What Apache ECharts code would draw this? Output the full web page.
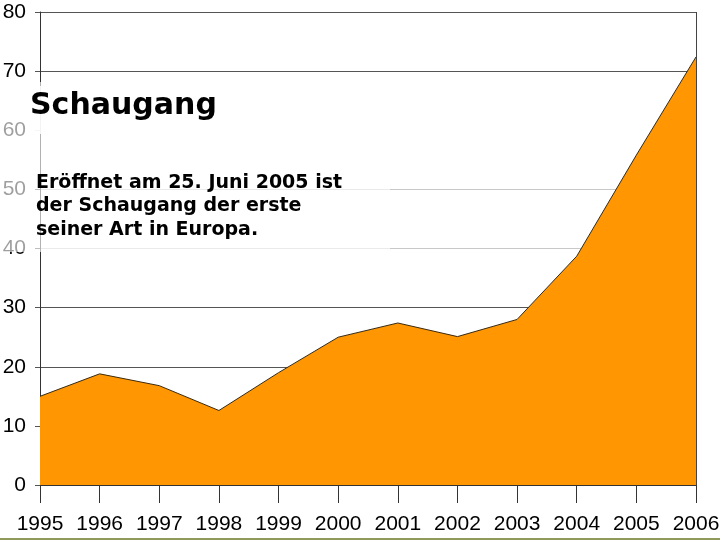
<!DOCTYPE html>
<html>
<head>
<meta charset="utf-8">
<script src="https://cdn.jsdelivr.net/npm/echarts@6/dist/echarts.min.js"></script>
<style>
  html, body { margin: 0; padding: 0; background: #fff; }
  #chart { width: 720px; height: 540px; }
</style>
</head>
<body>
<div id="chart"></div>
<script>
// Jahre und Werte
var years = ['1995', '1996', '1997', '1998', '1999', '2000', '2001', '2002', '2003', '2004', '2005', '2006'];
var values = [15, 18.8, 16.8, 12.6, 19, 25, 27.4, 25.1, 28, 38.7, 55.8, 72.4];
var yTicks = [0, 10, 20, 30, 40, 50, 60, 70, 80];
// Farben der Gitterlinien (0..80), 60 ist im Original nicht sichtbar
var gridColors = ['#555', '#555', '#555', '#555', '#c8c8c8', '#c8c8c8', 'rgba(0,0,0,0)', '#555', '#555'];

var titleText = 'Schaugang';
var noteText = 'Eröffnet am 25. Juni 2005 ist\nder Schaugang der erste\nseiner Art in Europa.';

var myChart = echarts.init(document.getElementById('chart'));

var option = {
  backgroundColor: '#fff',
  animation: false,
  grid: {
    left: 40,
    right: 24,
    top: 12,
    bottom: 55,
    containLabel: false,
    outerBoundsMode: 'none'
  },
  xAxis: {
    type: 'category',
    boundaryGap: false,
    data: years,
    axisLine: { lineStyle: { color: '#333', width: 1 } },
    axisTick: { show: true, length: 18, interval: 0, lineStyle: { color: '#333' } },
    axisLabel: {
      interval: 0,
      hideOverlap: false,
      color: '#000',
      fontFamily: 'Liberation Sans',
      fontSize: 21,
      margin: 29
    },
    splitLine: { show: false }
  },
  yAxis: {
    type: 'value',
    min: yTicks[0],
    max: yTicks[yTicks.length - 1],
    interval: 10,
    axisLine: { show: true, lineStyle: { color: '#333', width: 1 } },
    axisTick: { show: true, length: 5, lineStyle: { color: '#555' } },
    axisLabel: {
      color: '#000',
      fontFamily: 'Liberation Sans',
      fontSize: 21,
      margin: 14
    },
    splitLine: {
      show: true,
      lineStyle: { color: gridColors, width: 1 }
    }
  },
  series: [{
    type: 'line',
    data: values,
    symbol: 'none',
    silent: true,
    lineStyle: { color: '#3a2a10', width: 1 },
    areaStyle: { color: '#ff9602', opacity: 1 },
    z: 3
  }],
  graphic: [
    // rechter Rahmen
    {
      type: 'line',
      shape: { x1: 696.5, y1: 12, x2: 696.5, y2: 485 },
      style: { stroke: '#444', lineWidth: 1 },
      z: 5
    },
    // halbtransparente Textfläche
    {
      type: 'rect',
      shape: { x: 0, y: 82, width: 390, height: 170 },
      style: { fill: 'rgba(255,255,255,0.62)' },
      z: 10
    },
    {
      type: 'rect',
      shape: { x: 28, y: 86, width: 200, height: 48 },
      style: { fill: 'rgba(255,255,255,0.85)' },
      z: 10
    },
    {
      type: 'text',
      left: 30,
      top: 91,
      style: {
        text: titleText,
        fill: '#000',
        font: 'bold 30px "DejaVu Sans"'
      },
      z: 12
    },
    {
      type: 'text',
      left: 36,
      top: 171,
      style: {
        text: noteText,
        fill: '#000',
        font: 'bold 19px "DejaVu Sans"',
        lineHeight: 23.5
      },
      z: 12
    },
    // untere Linie
    {
      type: 'rect',
      shape: { x: 0, y: 538, width: 720, height: 2 },
      style: { fill: '#8f9a5c' },
      z: 12
    }
  ]
};

myChart.setOption(option);
</script>
</body>
</html>
